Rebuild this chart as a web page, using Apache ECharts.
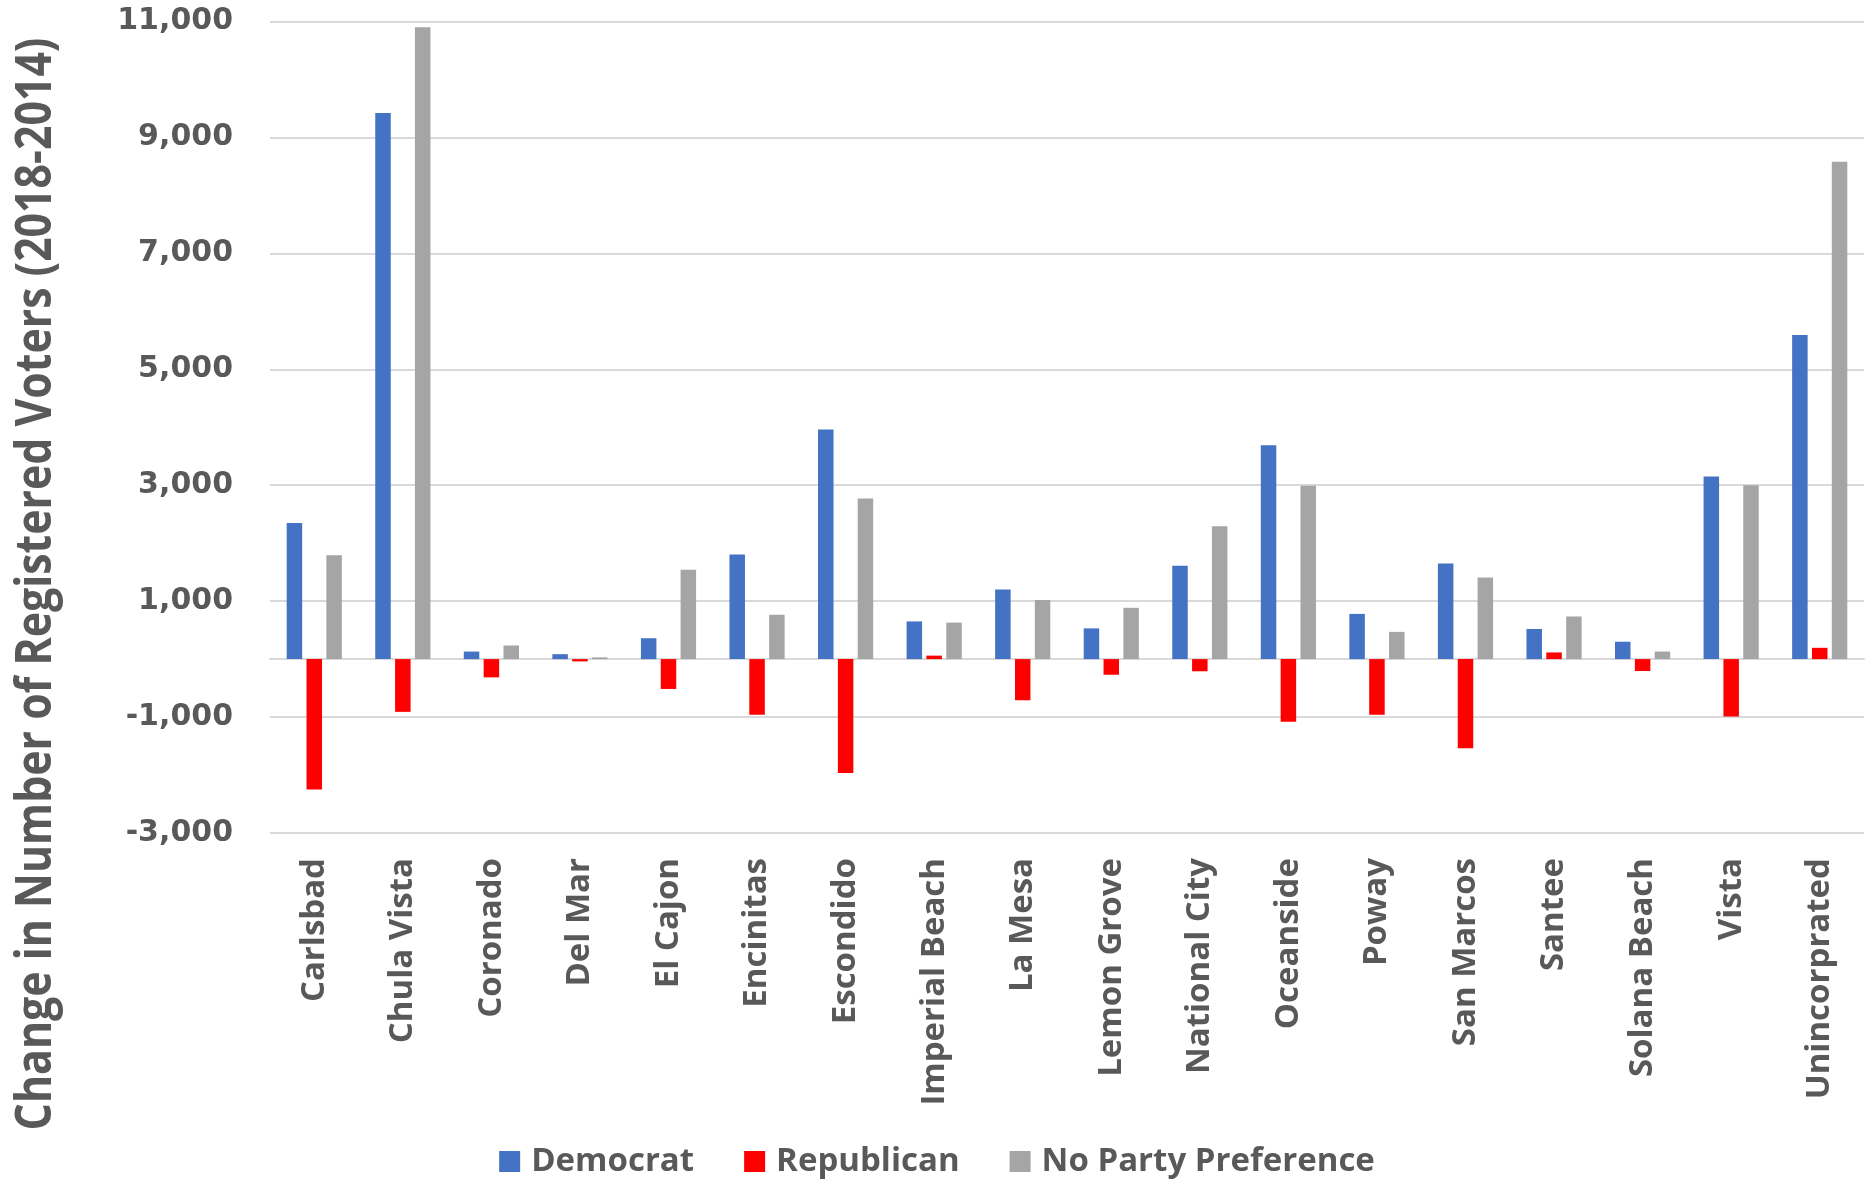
<!DOCTYPE html>
<html>
<head>
<meta charset="utf-8">
<script src="https://cdn.jsdelivr.net/npm/echarts@6/dist/echarts.min.js"></script>
<style>
html,body{margin:0;padding:0;background:#fff;}
#chart{width:1874px;height:1183px;}
</style>
</head>
<body>
<div id="chart"></div>
<script>
const categories = ['Carlsbad','Chula Vista','Coronado','Del Mar','El Cajon','Encinitas','Escondido','Imperial Beach','La Mesa','Lemon Grove','National City','Oceanside','Poway','San Marcos','Santee','Solana Beach','Vista','Unincorprated'];
const democrat = [2350, 9420, 130, 85, 360, 1805, 3960, 650, 1200, 530, 1610, 3690, 780, 1650, 520, 300, 3150, 5590];
const republican = [-2250, -910, -315, -40, -515, -960, -1965, 60, -710, -270, -210, -1080, -960, -1540, 115, -205, -990, 195];
const noParty = [1790, 10900, 235, 30, 1540, 765, 2770, 630, 1020, 885, 2290, 2990, 470, 1410, 735, 130, 3000, 8580];
const yTicks = [-3000, -1000, 1000, 3000, 5000, 7000, 9000, 11000];
const yTitle = 'Change in Number of Registered Voters (2018-2014)';

const chart = echarts.init(document.getElementById('chart'));
const labelFont = '"Open Sans", "Noto Sans", sans-serif';
chart.setOption({
  animation: false,
  backgroundColor: '#ffffff',
  grid: {left: 270, right: 10, top: 21.5, bottom: 350, containLabel: false},
  legend: {
    data: ['Democrat', 'Republican', 'No Party Preference'],
    top: 1140,
    left: 'center',
    itemWidth: 21,
    itemHeight: 21,
    itemGap: 50,
    icon: 'rect',
    textStyle: {fontFamily: labelFont, fontWeight: 'bold', fontSize: 33, color: '#595959', padding: [0, 0, 0, 6]}
  },
  graphic: [{
    type: 'text',
    rotation: Math.PI / 2,
    scaleX: 0.84,
    x: 36, y: 584,
    style: {
      text: yTitle,
      x: 0, y: 0,
      textAlign: 'center',
      textVerticalAlign: 'middle',
      font: 'bold 51px "Open Sans", sans-serif',
      fill: '#595959'
    }
  }],
  xAxis: {
    type: 'category',
    data: categories,
    axisLine: {show: true, onZero: true, lineStyle: {color: '#d9d9d9', width: 2}},
    axisTick: {show: false},
    axisLabel: {
      rotate: 90,
      margin: 25,
      fontFamily: labelFont,
      fontWeight: 'bold',
      fontSize: 33,
      color: '#595959',
      interval: 0
    }
  },
  yAxis: {
    type: 'value',
    min: yTicks[0],
    max: yTicks[yTicks.length - 1],
    interval: 2000,
    axisLine: {show: false},
    axisTick: {show: false},
    splitLine: {lineStyle: {color: '#d9d9d9', width: 2}},
    axisLabel: {
      margin: 37,
      fontFamily: '"DejaVu Sans", sans-serif',
      fontWeight: 'bold',
      fontSize: 30,
      color: '#595959',
      formatter: v => v.toLocaleString('en-US')
    }
  },
  series: [
    {name: 'Democrat', type: 'bar', data: democrat, barWidth: 15.5, barGap: '28%', itemStyle: {color: '#4472C4'}},
    {name: 'Republican', type: 'bar', data: republican, barWidth: 15.5, barGap: '28%', itemStyle: {color: '#FF0000'}},
    {name: 'No Party Preference', type: 'bar', data: noParty, barWidth: 15.5, barGap: '28%', itemStyle: {color: '#A5A5A5'}}
  ]
});
</script>
</body>
</html>
